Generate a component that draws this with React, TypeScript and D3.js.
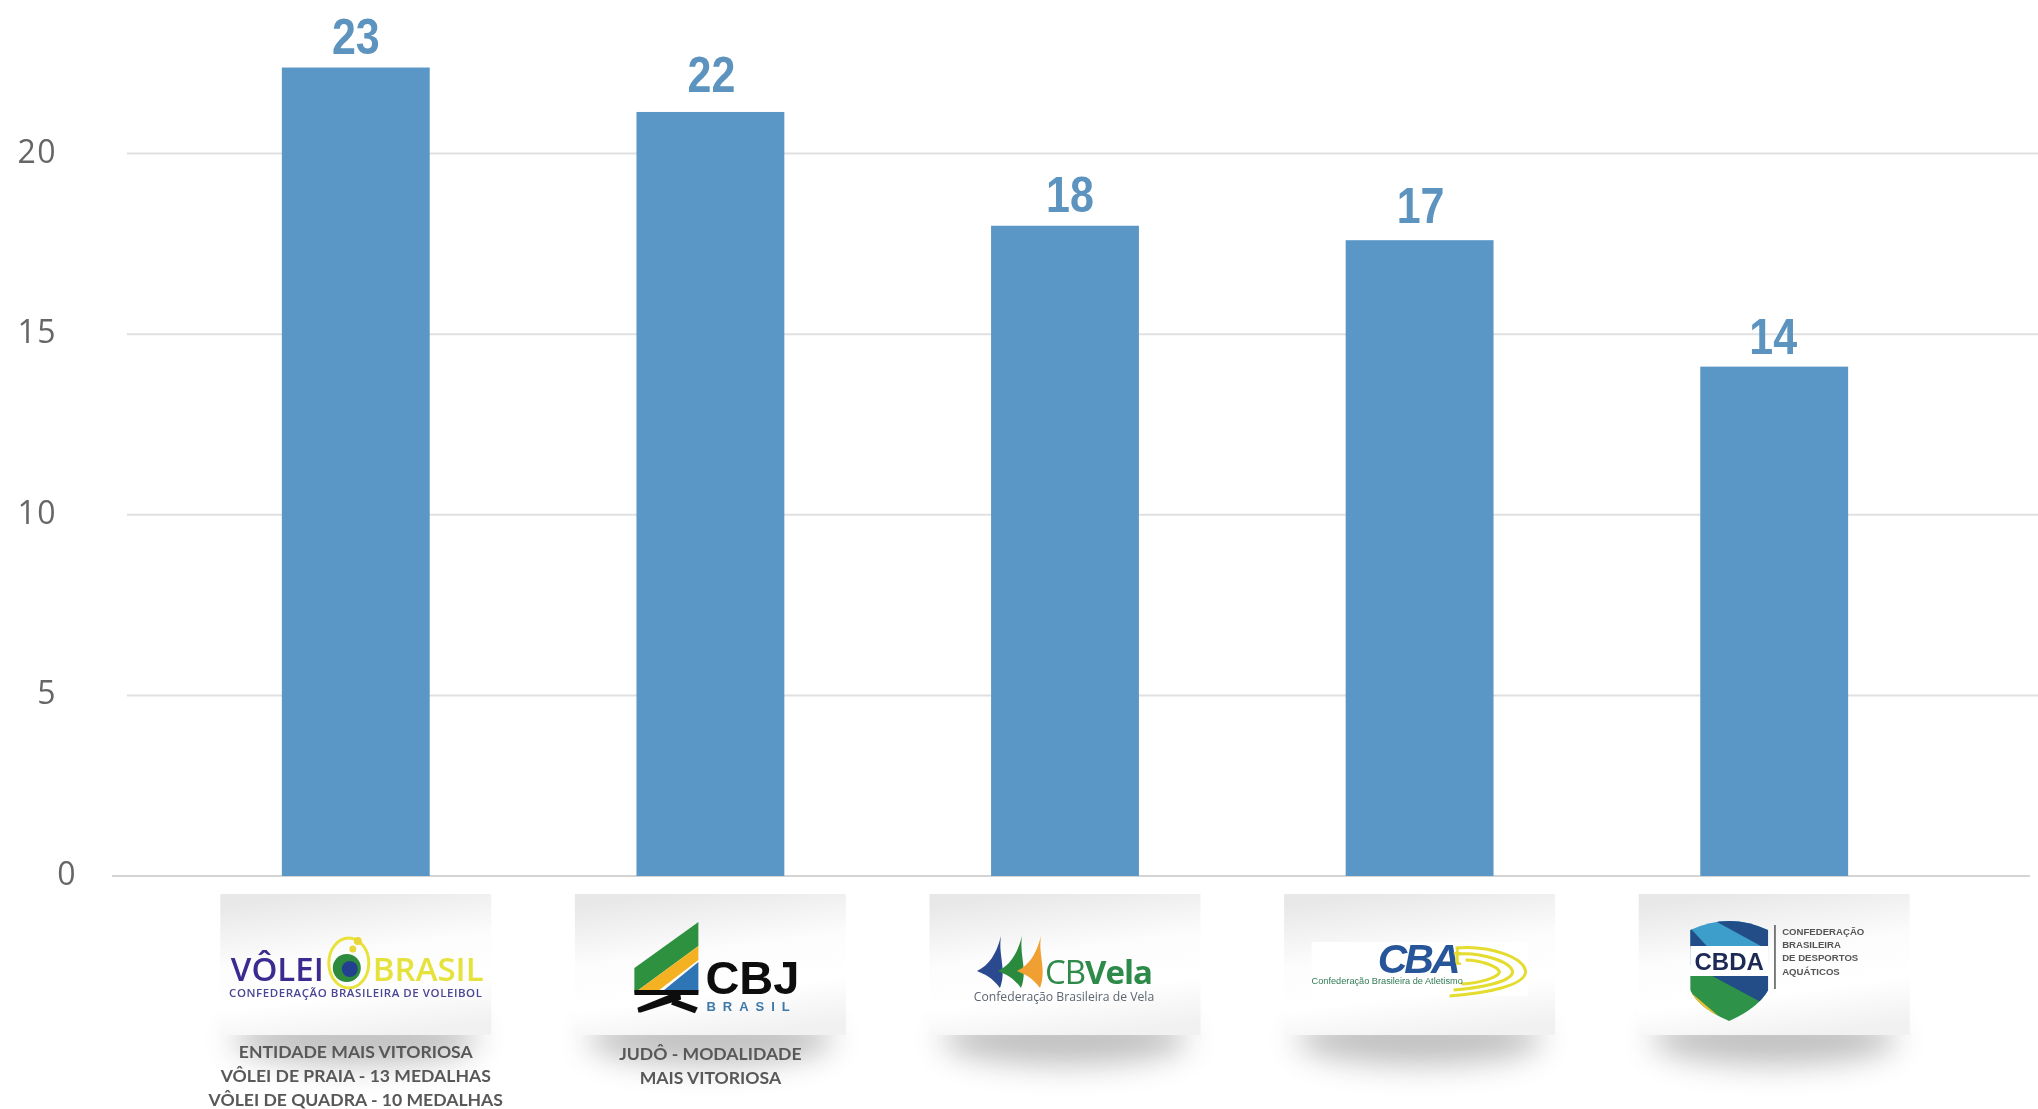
import React from "react";
import * as d3 from "d3";

const W = 2038, H = 1109;
const categories = ["Vôlei", "Judô", "Vela", "Atletismo", "Desportos Aquáticos"];
const barValues = [22.38, 21.15, 18, 17.6, 14.1];
const barLabels = ["23", "22", "18", "17", "14"];
const yTicks = [0, 5, 10, 15, 20];
const captions = [
  ["ENTIDADE MAIS VITORIOSA", "VÔLEI DE PRAIA - 13 MEDALHAS", "VÔLEI DE QUADRA - 10 MEDALHAS"],
  ["JUDÔ - MODALIDADE", "MAIS VITORIOSA"],
  [],
  [],
  [],
];
// the reference's hand-placed value labels sit at slightly uneven distances from their bars
const labelGap = [14, 20, 14, 17, 13];
const labelShift = [0, 1, 5, 1, -1];

const y = d3.scaleLinear().domain([0, 20]).range([876, 153.5]);
const x = d3.scaleBand<string>().domain(categories).range([178.5, 1951.5]).paddingInner(0.583).paddingOuter(0.2915);

function Card({ cx }: { cx: number }) {
  const w = 271, top = 894, h = 141;
  return (
    <g>
      <ellipse cx={cx} cy={top + h + 4} rx={w / 2 - 12} ry={26} fill="#7d7d7d" opacity={0.48} filter="url(#shadow)" />
      <rect x={cx - w / 2} y={top} width={w} height={h} fill="url(#cardFill)" />
    </g>
  );
}

function LogoVolei({ cx }: { cx: number }) {
  return (
    <g filter="url(#soft)">
      <text x={cx - 32} y={981} textAnchor="end" fontFamily="'Open Sans', sans-serif" fontWeight={600} fontSize={33} fill="#3b2a8f">VÔLEI</text>
      <circle cx={cx - 9} cy={968} r={14} fill="#2f8a3c" />
      <circle cx={cx - 6} cy={969} r={8} fill="#23408f" />
      <ellipse cx={cx - 7} cy={963} rx={20} ry={25} fill="none" stroke="#e9e23a" strokeWidth={3} />
      <circle cx={cx + 2} cy={941} r={4} fill="#e9d63a" />
      <circle cx={cx - 3} cy={949} r={3.5} fill="#e9d63a" />
      <text x={cx + 17} y={981} fontFamily="'Open Sans', sans-serif" fontWeight={600} fontSize={33} fill="#e5e23c">BRASIL</text>
      <text x={cx} y={997} textAnchor="middle" fontFamily="'Open Sans', sans-serif" fontWeight={600} fontSize={11.5} letterSpacing={0.55} fill="#4b4595">CONFEDERAÇÃO BRASILEIRA DE VOLEIBOL</text>
    </g>
  );
}

function LogoCbj({ cx }: { cx: number }) {
  return (
    <g filter="url(#soft)">
      <polygon points={`${cx - 76},968 ${cx - 12},922 ${cx - 12},946 ${cx - 76},993`} fill="#2f9141" />
      <polygon points={`${cx - 76},993 ${cx - 12},946 ${cx - 12},960 ${cx - 55},993`} fill="#f4b223" />
      <polygon points={`${cx - 50},993 ${cx - 12},962 ${cx - 12},993`} fill="#2f74b5" />
      <rect x={cx - 76} y={990} width={64} height={5} fill="#111" />
      <polygon points={`${cx - 72},1010 ${cx - 40},997 ${cx - 30},997 ${cx - 70},1010`} fill="#111" stroke="#111" strokeWidth={5} />
      <polygon points={`${cx - 36},1000 ${cx - 14},1008 ${cx - 16},1012 ${cx - 38},1004`} fill="#111" stroke="#111" strokeWidth={2} />
      <text x={cx - 5} y={994} fontFamily="'Liberation Sans', sans-serif" fontWeight={700} fontSize={47} fill="#111">CBJ</text>
      <text x={cx - 4} y={1011} fontFamily="'Liberation Sans', sans-serif" fontWeight={700} fontSize={13} letterSpacing={7} fill="#3d78a8">BRASIL</text>
    </g>
  );
}

function LogoVela({ cx }: { cx: number }) {
  const sail = (dx: number, fill: string) => (
    <path d={`M${cx + dx},936 C${cx + dx - 3},955 ${cx + dx + 6},970 ${cx + dx - 1},988 C${cx + dx - 9},977 ${cx + dx - 17},974 ${cx + dx - 24},971 C${cx + dx - 12},965 ${cx + dx - 5},955 ${cx + dx},936 Z`} fill={fill} />
  );
  return (
    <g filter="url(#soft)">
      {sail(-64, "#2c4a8f")}
      {sail(-43, "#2b8a3e")}
      {sail(-24, "#f0a030")}
      <text x={cx - 20} y={984} fontFamily="'Open Sans', sans-serif" fontSize={33} letterSpacing={-1} fill="#2f8a4a">CB<tspan fontWeight={700}>Vela</tspan></text>
      <text x={cx - 1} y={1001} textAnchor="middle" fontFamily="'Open Sans', sans-serif" fontSize={12.2} fill="#5d6670">Confederação Brasileira de Vela</text>
    </g>
  );
}

function LogoCba({ cx }: { cx: number }) {
  return (
    <g filter="url(#soft)">
      <rect x={cx - 108} y={942} width={216} height={54} fill="#ffffff" />
      <path d={`M${cx + 36},948 C${cx + 72},945 ${cx + 105},958 ${cx + 106},972 C${cx + 105},985 ${cx + 70},993 ${cx + 30},996`} fill="none" stroke="#e4dc2e" strokeWidth={3} />
      <path d={`M${cx + 38},954 C${cx + 62},952 ${cx + 92},962 ${cx + 93},972 C${cx + 92},982 ${cx + 60},988 ${cx + 34},990`} fill="none" stroke="#e4dc2e" strokeWidth={3} />
      <path d={`M${cx + 46},960 C${cx + 60},960 ${cx + 78},966 ${cx + 80},972 C${cx + 78},978 ${cx + 60},983 ${cx + 42},984`} fill="none" stroke="#e4dc2e" strokeWidth={3} />
      <text x={cx - 2} y={973} textAnchor="middle" fontFamily="'Liberation Sans', sans-serif" fontStyle="italic" fontWeight={700} fontSize={41} letterSpacing={-3} fill="#26549a">CBA</text>
      <text x={cx + 34} y={965} fontFamily="'Liberation Sans', sans-serif" fontWeight={700} fontSize={24} fill="#e4dc2e">t</text>
      <text x={cx - 108} y={984} fontFamily="'Liberation Sans', sans-serif" fontSize={9.2} fill="#2e7a52">Confederação Brasileira de Atletismo</text>
    </g>
  );
}

function LogoCbda({ cx }: { cx: number }) {
  const l = cx - 84, r = cx - 6, m = (l + r) / 2;
  const shield = `M${l},930 Q${m},912 ${r},930 L${r},990 Q${r - 10},1008 ${m},1021 Q${l + 8},1008 ${l},990 Z`;
  return (
    <g filter="url(#soft)">
      <clipPath id="shieldClip"><path d={shield} /></clipPath>
      <g clipPath="url(#shieldClip)">
        <rect x={l} y={915} width={r - l} height={50} fill="#3d9ecb" />
        <path d={`M${l + 14},915 L${r},950 L${r},930 L${l + 40},915 Z`} fill="#214d86" />
        <path d={`M${l},928 L${l + 34},965 L${l + 14},965 L${l},948 Z`} fill="#214d86" />
        <rect x={l} y={946} width={r - l} height={32} fill="#fff" />
        <rect x={l} y={976} width={r - l} height={50} fill="#2f9348" />
        <path d={`M${l + 22},976 L${r},1006 L${r},976 Z`} fill="#214d86" />
        <path d={`M${l},992 L${l + 40},1026 L${l + 20},1026 L${l},1006 Z`} fill="#f0c030" />
      </g>
      <text x={m} y={970} textAnchor="middle" fontFamily="'Liberation Sans', sans-serif" fontWeight={700} fontSize={24} fill="#1d2a55">CBDA</text>
      <rect x={r + 6} y={925} width={1.5} height={64} fill="#555" />
      {["CONFEDERAÇÃO", "BRASILEIRA", "DE DESPORTOS", "AQUÁTICOS"].map((t, i) => (
        <text key={t} x={r + 14} y={935 + i * 13.2} fontFamily="'Liberation Sans', sans-serif" fontWeight={700} fontSize={9.6} fill="#555">{t}</text>
      ))}
    </g>
  );
}

const logos = [LogoVolei, LogoCbj, LogoVela, LogoCba, LogoCbda];

export default function App() {
  return (
    <svg width={W} height={H} style={{ position: "fixed", left: 0, top: 0, background: "#fff" }}>
      <defs>
        <filter id="shadow" x="-30%" y="-200%" width="160%" height="500%"><feGaussianBlur stdDeviation="15" /></filter>
        <filter id="soft"><feGaussianBlur stdDeviation="0.7" /></filter>
        <filter id="softText"><feGaussianBlur stdDeviation="0.45" /></filter>
        <linearGradient id="cardFill" x1="0.35" y1="0" x2="0.6" y2="1">
          <stop offset="0" stopColor="#e8e8e8" />
          <stop offset="0.4" stopColor="#fcfcfc" />
          <stop offset="0.7" stopColor="#ffffff" />
          <stop offset="1" stopColor="#f1f1f1" />
        </linearGradient>
      </defs>
      {yTicks.filter((t) => t > 0).map((t) => (
        <line key={t} x1={127} x2={W} y1={y(t)} y2={y(t)} stroke="#e0e0e0" strokeWidth={2} />
      ))}
      <line x1={112} x2={2030} y1={y(0)} y2={y(0)} stroke="#d4d4d4" strokeWidth={2} />
      {yTicks.map((t) => (
        <text key={t} x={t === 0 ? 77 : 57} y={y(t) + 9} textAnchor="end" fontFamily="'Open Sans', sans-serif" fontSize={32} letterSpacing={1.5} fill="#666" filter="url(#softText)">{t}</text>
      ))}
      {categories.map((c, i) => {
        const cx = x(c)! + x.bandwidth() / 2 + labelShift[i];
        const by = y(barValues[i]) - labelGap[i];
        return (
          <g key={c}>
            <rect x={x(c)} y={y(barValues[i])} width={x.bandwidth()} height={y(0) - y(barValues[i])} fill="#5b97c6" />
            <text transform={`translate(${cx},${by}) scale(0.86,1)`} textAnchor="middle" fontFamily="'Liberation Sans', sans-serif" fontWeight={700} fontSize={50} fill="#5b93bf" filter="url(#softText)">{barLabels[i]}</text>
          </g>
        );
      })}
      {categories.map((c, i) => {
        const cx = x(c)! + x.bandwidth() / 2;
        const Logo = logos[i];
        return (
          <g key={c}>
            <Card cx={cx} />
            <Logo cx={cx} />
            {captions[i].map((line, j) => (
              <text key={line} x={cx} y={(i === 0 ? 1058 : 1060) + j * 24} textAnchor="middle" fontFamily="Lato, sans-serif" fontWeight={700} fontSize={17.6} fill="#585858" filter="url(#softText)">{line}</text>
            ))}
          </g>
        );
      })}
    </svg>
  );
}
